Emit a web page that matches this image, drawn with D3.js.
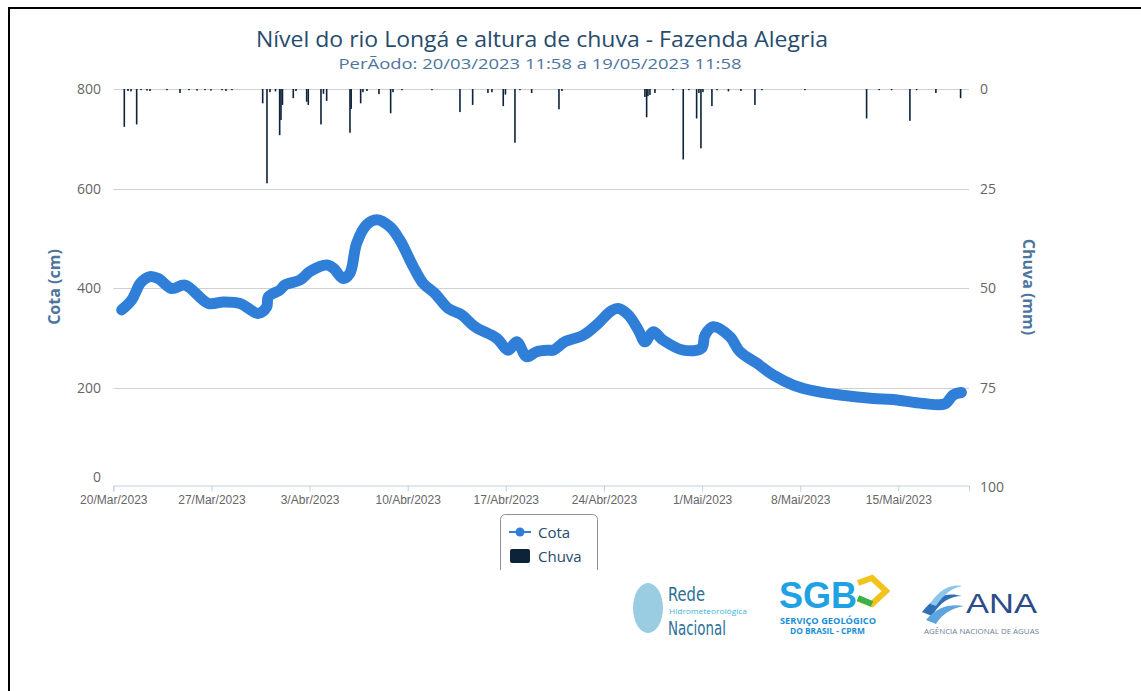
<!DOCTYPE html>
<html>
<head>
  <title>Nível do rio Longá e altura de chuva - Fazenda Alegria</title>
  <script src="https://d3js.org/d3.v7.min.js"></script>
  <style>
    body { margin: 0; background: #fff; }
    svg { display: block; }
  </style>
</head>
<body>
<div id="chart"></div>
<script>
// dados
var cotaDatas = ["2023-03-20T14:23", "2023-03-21T07:29", "2023-03-21T16:03", "2023-03-21T21:42",
  "2023-03-22T14:50", "2023-03-23T05:02", "2023-03-24T03:58", "2023-03-25T02:44",
  "2023-03-26T18:37", "2023-03-27T20:18", "2023-03-29T00:53", "2023-03-30T08:13",
  "2023-03-30T22:36", "2023-03-31T01:20", "2023-03-31T21:22", "2023-04-01T05:55",
  "2023-04-02T07:36", "2023-04-03T00:43", "2023-04-04T05:18", "2023-04-04T16:36",
  "2023-04-05T09:43", "2023-04-05T21:12", "2023-04-06T08:39", "2023-04-07T01:46",
  "2023-04-07T18:54", "2023-04-08T17:40", "2023-04-09T10:47", "2023-04-10T09:33",
  "2023-04-11T02:40", "2023-04-11T22:42", "2023-04-12T21:28", "2023-04-13T20:24",
  "2023-04-14T19:10", "2023-04-16T08:20", "2023-04-17T04:11", "2023-04-17T18:33",
  "2023-04-18T11:40", "2023-04-19T04:48", "2023-04-20T00:39", "2023-04-20T09:13",
  "2023-04-21T05:14", "2023-04-22T12:34", "2023-04-23T14:14", "2023-04-24T10:16",
  "2023-04-25T00:29", "2023-04-25T17:36", "2023-04-26T10:43", "2023-04-26T22:10",
  "2023-04-27T12:23", "2023-04-28T05:31", "2023-04-29T15:45", "2023-04-30T23:15",
  "2023-05-01T04:54", "2023-05-01T19:06", "2023-05-02T23:41", "2023-05-03T16:48",
  "2023-05-04T21:24", "2023-05-06T01:49", "2023-05-07T12:03", "2023-05-09T04:06",
  "2023-05-10T20:00", "2023-05-13T05:00", "2023-05-14T14:43", "2023-05-16T18:04",
  "2023-05-18T07:44", "2023-05-18T21:56", "2023-05-19T11:58"];
var cotaValores = [356, 376, 396, 409, 423, 419, 399, 406, 369, 372, 369, 349,
  362, 382, 396, 406, 416, 433, 446, 440, 419, 430, 490, 527,
  537, 523, 496, 443, 409, 389, 359, 346, 322, 299, 275, 292,
  262, 272, 275, 275, 292, 305, 329, 352, 359, 346, 316, 292,
  312, 295, 275, 279, 305, 322, 302, 272, 249, 225, 205, 192,
  185, 178, 176, 168, 167, 185, 190];

var chuvaDatas = ["2023-03-20T18:50", "2023-03-21T01:10", "2023-03-21T06:20", "2023-03-21T16:00",
  "2023-03-21T23:25", "2023-03-22T09:40", "2023-03-22T14:50", "2023-03-23T19:55",
  "2023-03-24T18:10", "2023-03-25T09:35", "2023-03-25T23:15", "2023-03-26T12:57",
  "2023-03-26T23:14", "2023-03-27T18:05", "2023-03-28T00:55", "2023-03-28T11:10",
  "2023-03-30T15:45", "2023-03-30T23:07", "2023-03-31T04:15", "2023-03-31T13:40",
  "2023-03-31T20:50", "2023-03-31T23:04", "2023-04-01T01:38", "2023-04-01T20:08",
  "2023-04-02T00:45", "2023-04-02T19:05", "2023-04-02T21:49", "2023-04-03T19:34",
  "2023-04-03T23:50", "2023-04-04T05:18", "2023-04-05T21:12", "2023-04-05T23:15",
  "2023-04-06T15:30", "2023-04-06T19:26", "2023-04-07T02:18", "2023-04-07T22:49",
  "2023-04-08T18:51", "2023-04-08T22:48", "2023-04-09T14:12", "2023-04-11T17:34",
  "2023-04-13T17:30", "2023-04-14T15:14", "2023-04-15T17:25", "2023-04-16T00:16",
  "2023-04-16T19:36", "2023-04-16T23:22", "2023-04-17T15:39", "2023-04-18T00:13",
  "2023-04-18T20:14", "2023-04-20T18:59", "2023-04-21T00:06", "2023-04-26T22:10",
  "2023-04-27T01:06", "2023-04-27T03:19", "2023-04-27T06:45", "2023-04-27T15:19",
  "2023-04-28T22:08", "2023-04-29T15:45", "2023-04-30T01:30", "2023-04-30T14:41",
  "2023-04-30T18:37", "2023-04-30T22:03", "2023-05-01T01:28", "2023-05-01T16:52",
  "2023-05-02T01:26", "2023-05-02T21:07", "2023-05-03T18:32", "2023-05-04T18:29",
  "2023-05-05T06:28", "2023-05-08T08:05", "2023-05-12T17:42", "2023-05-13T15:16",
  "2023-05-14T12:30", "2023-05-15T19:49", "2023-05-16T07:18", "2023-05-17T16:19",
  "2023-05-19T10:36"];
var chuvaValores = [9.5, 0.5, 0.6, 8.9, 0.3, 0.4, 0.5, 0.3,
  1.0, 0.3, 0.4, 0.3, 0.4, 0.3, 0.5, 0.3,
  3.6, 23.7, 0.8, 0.6, 11.6, 7.8, 4.0, 2.3,
  0.5, 3.2, 4.0, 8.9, 1.2, 3.0, 11.0, 5.0,
  3.6, 0.8, 0.5, 1.3, 6.1, 0.8, 0.3, 0.3,
  5.8, 4.0, 1.0, 0.8, 4.3, 1.4, 13.5, 0.3,
  1.0, 5.1, 0.5, 2.0, 7.1, 1.8, 1.5, 1.0,
  0.3, 17.7, 0.3, 7.4, 1.0, 14.9, 0.8, 4.3,
  0.3, 0.6, 0.5, 4.0, 0.3, 0.3, 7.4, 0.3,
  0.3, 8.0, 0.3, 1.0, 2.3];

var ticksCota = [0, 200, 400, 600, 800];
var ticksChuva = [0, 25, 50, 75, 100];
var ticksDatas = ["2023-03-20", "2023-03-27", "2023-04-03", "2023-04-10", "2023-04-17",
  "2023-04-24", "2023-05-01", "2023-05-08", "2023-05-15"];
var mesesAbrev = ["Jan", "Fev", "Mar", "Abr", "Mai", "Jun", "Jul", "Ago", "Set", "Out", "Nov", "Dez"];

var w = 1141, h = 691;
var pLeft = 113.3, pRight = 969, pTop = 89, pBottom = 487;

var parse = d3.timeParse("%Y-%m-%dT%H:%M");
var parseDia = d3.timeParse("%Y-%m-%d");

var cota = cotaDatas.map(function (d, i) { return [parse(d), cotaValores[i]]; });
var chuva = chuvaDatas.map(function (d, i) { return [parse(d), chuvaValores[i]]; });

var x = d3.scaleTime()
  .domain([new Date(2023, 2, 20, 0, 0), new Date(2023, 4, 20, 1, 0)])
  .range([pLeft, pRight]);
var yCota = d3.scaleLinear().domain([0, 800]).range([pBottom, pTop]);
var yChuva = d3.scaleLinear().domain([0, 100]).range([pTop, pBottom]);

var svg = d3.select("#chart").append("svg")
  .attr("width", w)
  .attr("height", h)
  .style("font-family", "'Open Sans', sans-serif");

// moldura
svg.append("line").attr("x1", 9).attr("x2", 9).attr("y1", 8).attr("y2", h)
  .attr("stroke", "#000").attr("stroke-width", 2);
svg.append("line").attr("x1", 8).attr("x2", w).attr("y1", 8).attr("y2", 8)
  .attr("stroke", "#000").attr("stroke-width", 2);

// titulo
svg.append("text")
  .attr("x", 542).attr("y", 47)
  .attr("text-anchor", "middle")
  .attr("font-size", "21px")
  .attr("fill", "#274b6d")
  .attr("textLength", 572).attr("lengthAdjust", "spacingAndGlyphs")
  .text("Nível do rio Longá e altura de chuva - Fazenda Alegria");
svg.append("text")
  .attr("x", 540).attr("y", 69)
  .attr("text-anchor", "middle")
  .attr("font-size", "14px")
  .attr("fill", "#4d759e")
  .attr("textLength", 403).attr("lengthAdjust", "spacingAndGlyphs")
  .text("PerÃodo: 20/03/2023 11:58 a 19/05/2023 11:58");

// grade
svg.selectAll(".grid")
  .data(ticksCota.filter(function (d) { return d > 0; }))
  .enter().append("line")
  .attr("class", "grid")
  .attr("x1", pLeft).attr("x2", pRight)
  .attr("y1", function (d) { return Math.round(yCota(d)) + 0.5; })
  .attr("y2", function (d) { return Math.round(yCota(d)) + 0.5; })
  .attr("stroke", "#d0d0d0");

// eixo esquerdo
svg.selectAll(".lblCota")
  .data(ticksCota)
  .enter().append("text")
  .attr("class", "lblCota")
  .attr("x", 101)
  .attr("y", function (d) { return yCota(d) + 5 - (d === 0 ? 10 : 0); })
  .attr("text-anchor", "end")
  .attr("font-size", "14px")
  .attr("fill", "#666")
  .text(function (d) { return d; });

// eixo direito
svg.selectAll(".lblChuva")
  .data(ticksChuva)
  .enter().append("text")
  .attr("class", "lblChuva")
  .attr("x", 980)
  .attr("y", function (d) { return yChuva(d) + 5; })
  .attr("font-size", "14px")
  .attr("fill", "#666")
  .text(function (d) { return d; });

svg.append("text")
  .attr("transform", "translate(60,287) rotate(-90)")
  .attr("text-anchor", "middle")
  .attr("font-size", "16px")
  .attr("font-weight", "bold")
  .attr("fill", "#4d759e")
  .text("Cota (cm)");
svg.append("text")
  .attr("transform", "translate(1023,287) rotate(90)")
  .attr("text-anchor", "middle")
  .attr("font-size", "16px")
  .attr("font-weight", "bold")
  .attr("fill", "#4d759e")
  .text("Chuva (mm)");

// eixo x
var xAxis = d3.axisBottom(x)
  .tickValues(ticksDatas.map(parseDia))
  .tickSize(6)
  .tickPadding(4)
  .tickFormat(function (d) {
    return d.getDate() + "/" + mesesAbrev[d.getMonth()] + "/" + d.getFullYear();
  });
var gx = svg.append("g")
  .attr("transform", "translate(0," + (pBottom - 1.5) + ")")
  .call(xAxis);
gx.select(".domain").attr("stroke", "#c0d0e0");
gx.selectAll(".tick line").attr("stroke", "#c0d0e0");
gx.selectAll(".tick text")
  .attr("fill", "#666")
  .attr("font-size", "12px")
  .attr("font-family", "'Liberation Sans', Arial, sans-serif");

// chuva
svg.selectAll(".chuva")
  .data(chuva)
  .enter().append("rect")
  .attr("class", "chuva")
  .attr("x", function (d) { return x(d[0]) - 0.8; })
  .attr("y", pTop)
  .attr("width", 1.6)
  .attr("height", function (d) { return Math.max(1, yChuva(d[1]) - pTop); })
  .attr("fill", "#0d233a");

// cota
var linha = d3.line()
  .x(function (d) { return x(d[0]); })
  .y(function (d) { return yCota(d[1]); })
  .curve(d3.curveCatmullRom);
svg.append("path")
  .datum(cota)
  .attr("d", linha)
  .attr("fill", "none")
  .attr("stroke", "#2f7ed8")
  .attr("stroke-width", 11)
  .attr("stroke-linejoin", "round")
  .attr("stroke-linecap", "round");

// legenda
svg.append("clipPath").attr("id", "clipLeg")
  .append("rect").attr("x", 490).attr("y", 505).attr("width", 120).attr("height", 65);
var leg = svg.append("g").attr("clip-path", "url(#clipLeg)");
leg.append("rect")
  .attr("x", 500.5).attr("y", 514.5).attr("width", 97).attr("height", 70)
  .attr("rx", 5)
  .attr("fill", "#fff")
  .attr("stroke", "#909090");
leg.append("line")
  .attr("x1", 509).attr("x2", 531).attr("y1", 532).attr("y2", 532)
  .attr("stroke", "#2f7ed8").attr("stroke-width", 2);
leg.append("circle")
  .attr("cx", 520).attr("cy", 532).attr("r", 4.5)
  .attr("fill", "#2f7ed8");
leg.append("text")
  .attr("x", 538).attr("y", 538)
  .attr("font-size", "15px")
  .attr("fill", "#274b6d")
  .text("Cota");
leg.append("rect")
  .attr("x", 510).attr("y", 549).attr("width", 20).attr("height", 14)
  .attr("rx", 2)
  .attr("fill", "#0d233a");
leg.append("text")
  .attr("x", 538).attr("y", 562)
  .attr("font-size", "15px")
  .attr("fill", "#274b6d")
  .text("Chuva");

// logos (aproximados com texto)
var logos = svg.append("g");
logos.append("ellipse")
  .attr("cx", 648).attr("cy", 608).attr("rx", 15).attr("ry", 25)
  .attr("fill", "#6fb6d6").attr("opacity", 0.7);
logos.append("text").attr("x", 668).attr("y", 601)
  .attr("font-size", "19px").attr("fill", "#2a6f97")
  .attr("font-family", "'DejaVu Sans Condensed', sans-serif")
  .attr("textLength", 37).attr("lengthAdjust", "spacingAndGlyphs")
  .text("Rede");
logos.append("text").attr("x", 669).attr("y", 614)
  .attr("font-size", "8px").attr("fill", "#3cb4d8")
  .attr("textLength", 78).attr("lengthAdjust", "spacingAndGlyphs")
  .text("Hidrometeorológica");
logos.append("text").attr("x", 668).attr("y", 635)
  .attr("font-size", "19px").attr("fill", "#2a6f97")
  .attr("font-family", "'DejaVu Sans Condensed', sans-serif")
  .attr("textLength", 58).attr("lengthAdjust", "spacingAndGlyphs")
  .text("Nacional");

logos.append("text").attr("x", 779).attr("y", 608)
  .attr("font-size", "36px").attr("font-weight", "bold").attr("fill", "#1ea2e4")
  .attr("font-family", "'Liberation Sans', Arial, sans-serif")
  .attr("textLength", 78).attr("lengthAdjust", "spacingAndGlyphs")
  .text("SGB");
logos.append("path")
  .attr("d", "M858,583 L872,578 L886,591 L872,604 L858,599")
  .attr("fill", "none").attr("stroke", "#f2c31b").attr("stroke-width", 6);
logos.append("path")
  .attr("d", "M858,598 L872,604")
  .attr("fill", "none").attr("stroke", "#36b34a").attr("stroke-width", 6);
logos.append("text").attr("x", 780).attr("y", 624)
  .attr("font-size", "8px").attr("font-weight", "bold").attr("fill", "#1a8fd8")
  .attr("textLength", 96).attr("lengthAdjust", "spacingAndGlyphs")
  .text("SERVIÇO GEOLÓGICO");
logos.append("text").attr("x", 790).attr("y", 634)
  .attr("font-size", "8px").attr("font-weight", "bold").attr("fill", "#1a8fd8")
  .attr("textLength", 75).attr("lengthAdjust", "spacingAndGlyphs")
  .text("DO BRASIL - CPRM");

logos.append("path")
  .attr("d", "M922,612 C935,595 948,592 962,596 C950,596 940,602 932,616 Z")
  .attr("fill", "#2f6fb3");
logos.append("path")
  .attr("d", "M926,620 C938,606 950,604 964,606 C952,608 942,614 936,624 Z")
  .attr("fill", "#5da6dd");
logos.append("path")
  .attr("d", "M930,604 C940,588 952,584 962,586 C952,588 944,594 936,606 Z")
  .attr("fill", "#8cc6ec");
logos.append("text").attr("x", 966).attr("y", 613)
  .attr("font-size", "27px").attr("fill", "#2b4c8c")
  .attr("font-family", "'Liberation Sans', Arial, sans-serif")
  .attr("textLength", 71).attr("lengthAdjust", "spacingAndGlyphs")
  .text("ANA");
logos.append("text").attr("x", 924).attr("y", 634)
  .attr("font-size", "7px").attr("fill", "#6d7f95")
  .attr("textLength", 115).attr("lengthAdjust", "spacingAndGlyphs")
  .text("AGÊNCIA NACIONAL DE ÁGUAS");
</script>
</body>
</html>
